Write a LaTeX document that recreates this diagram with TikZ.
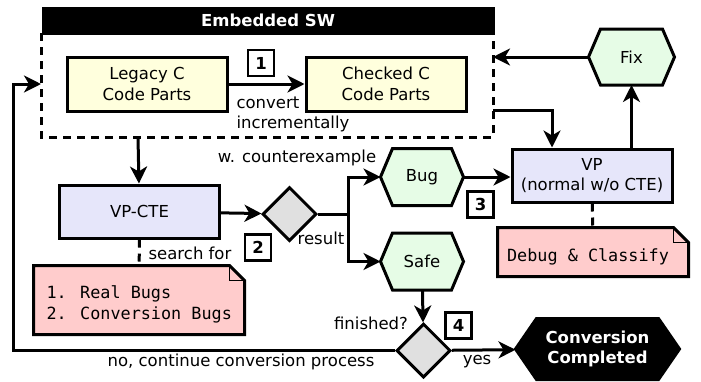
\documentclass[tikz,border=0pt]{standalone}
\usepackage{fontspec}
\setmainfont{DejaVu Sans}
\newfontfamily\monof{DejaVu Sans Mono}
\usetikzlibrary{arrows.meta,shapes.geometric,backgrounds,calc}
\definecolor{cyellow}{HTML}{FFFFDD}
\definecolor{cblue}{HTML}{E6E6FA}
\definecolor{cgreen}{HTML}{E6FCE6}
\definecolor{cpink}{HTML}{FFCCCC}
\definecolor{cgray}{HTML}{E0E0E0}
\tikzset{
  base/.style={line width=3pt, font=\fontsize{16.5}{20.5}\selectfont},
  codebox/.style={draw, line width=3pt, fill=cyellow, minimum width=160pt, minimum height=54pt, inner sep=0pt, align=center},
  vpbox/.style={draw, line width=3pt, fill=cblue, minimum width=160pt, minimum height=53pt, inner sep=0pt, align=center},
  hexnode/.style={minimum width=80pt, minimum height=54pt, inner sep=0pt, align=center},
  decision/.style={diamond, draw, line width=3pt, fill=cgray, minimum width=54pt, minimum height=54pt, inner sep=0pt},
  numbox/.style={draw, fill=white, minimum width=26pt, minimum height=26pt, inner sep=0pt, line width=2.2pt, font=\fontsize{16.5}{20}\selectfont\bfseries},
  notenode/.style={inner sep=0pt},
  notetext/.style={inner sep=0pt, align=left, font=\fontsize{16.8}{21}\selectfont\monof},
  lbl/.style={inner sep=0pt, align=left},
  conn/.style={line width=3pt},
  arr/.style={line width=3pt, -{Stealth[length=17pt,width=17pt,inset=5pt]}},
  dashline/.style={line width=3pt, dash pattern=on 8pt off 6pt},
}
\newcommand{\hexdraw}[3]{% name, depth, fill
  \filldraw[line width=3pt, fill=#3, line join=miter] (#1.west) -- ([xshift=#2]#1.north west) -- ([xshift=-#2]#1.north east) -- (#1.east) -- ([xshift=-#2]#1.south east) -- ([xshift=#2]#1.south west) -- cycle;}
\newcommand{\notedraw}[1]{%
  \filldraw[line width=3pt, fill=cpink, line join=miter] (#1.north west) -- ([xshift=-15pt]#1.north east) -- ([yshift=-15pt]#1.north east) -- (#1.south east) -- (#1.south west) -- cycle;
  \draw[line width=1pt] ([xshift=-15pt]#1.north east) -- ([xshift=-15pt,yshift=-15pt]#1.north east) -- ([yshift=-15pt]#1.north east);}
\begin{document}
\begin{tikzpicture}[x=1pt, y=-1pt, base]
\useasboundingbox (0,0) rectangle (701,381);
% Embedded SW
\node[fill=black, minimum width=453pt, minimum height=28pt, inner sep=0pt, anchor=north west, text=white, font=\fontsize{16.5}{20}\selectfont\bfseries] (hdr) at (40,5) {Embedded SW};
\draw[dashline] (41,33) -- (41,137) -- (493,137) -- (493,33);
\coordinate (boxL) at (41,84);
\coordinate (boxR) at (493,57);
\coordinate (boxRo) at (493,110);
\coordinate (boxB) at (138,137);
% code boxes
\node[codebox] (legacy) at (147,84) {Legacy C\\Code Parts};
\node[codebox] (checked) at (386,84) {Checked C\\Code Parts};
\node[numbox] (n1) at (261,63) {1};
\node[lbl, anchor=west] (conv) at (235,103) {convert};
\node[lbl, anchor=west] (incr) at (235,124) {incrementally};
% VP-CTE
\node[vpbox] (vpcte) at (139.5,211.5) {VP-CTE};
\node[decision] (d1) at (289.5,214) {};
\node[lbl] (res) at (321,238) {result};
\node[lbl] (wce) at (297,158) {w. counterexample};
\node[lbl] (sf) at (190,253) {search for};
\node[numbox] (n2) at (258,247.5) {2};
\node[notenode, minimum width=208pt, minimum height=66pt] (note1) at (139,300) {};
\node[notetext, anchor=west] (note1txt) at (45,304.5) {1. Real Bugs\\2. Conversion Bugs};
% hexagons
\node[hexnode] (bug) at (422,177) {Bug};
\node[hexnode] (safe) at (422,261.5) {Safe};
\node[hexnode, minimum width=83pt, minimum height=53pt] (fix) at (631.5,57) {Fix};
% VP
\node[vpbox] (vp) at (592,175.5) {VP\\(normal w/o CTE)};
\node[numbox] (n3) at (480.5,204.5) {3};
\node[notenode, minimum width=188pt, minimum height=46pt] (note2) at (593,252) {};
\node[notetext] (note2txt) at (588,257) {Debug \& Classify};
% finish
\node[decision] (d2) at (423.5,350.5) {};
\node[lbl] (fin) at (371,323) {finished?};
\node[numbox] (n4) at (458.5,325.5) {4};
\node[lbl] (yes) at (477,362) {yes};
\node[lbl] (no) at (241,362) {no, continue conversion process};
\node[hexnode, minimum width=161pt, minimum height=58pt, text=white, font=\fontsize{16.5}{20.5}\selectfont\bfseries] (cc) at (597.5,349) {Conversion\\Completed};
\begin{scope}[on background layer]
\hexdraw{bug}{12pt}{cgreen}
\hexdraw{safe}{12pt}{cgreen}
\hexdraw{fix}{12pt}{cgreen}
\hexdraw{cc}{21pt}{black}
\notedraw{note1}
\notedraw{note2}
\end{scope}
% connectors
\draw[arr] (legacy) -- (checked);
\draw[arr] (fix) -- (boxR);
\draw[arr] (boxRo) -| (vp.north -| 552,0);
\draw[arr] (vp.north -| fix) -- (fix);
\draw[arr] (boxB) -- (vpcte);
\draw[arr] (vpcte) -- (d1);
\coordinate (split) at (348,214);
\draw[conn] (d1.east) -- (split);
\draw[arr] (split) |- (bug);
\draw[arr] (split) |- (safe);
\draw[arr] (bug) -- (bug -| vp.west);
\draw[dashline] (vp) -- (note2);
\draw[dashline] (vpcte) -- (note1);
\draw[arr] (safe) -- (d2);
\draw[arr] (d2) -- (cc);
\draw[arr] (d2.west) -- (13,350.5) -- (13,84) -- (boxL);
\end{tikzpicture}
\end{document}
